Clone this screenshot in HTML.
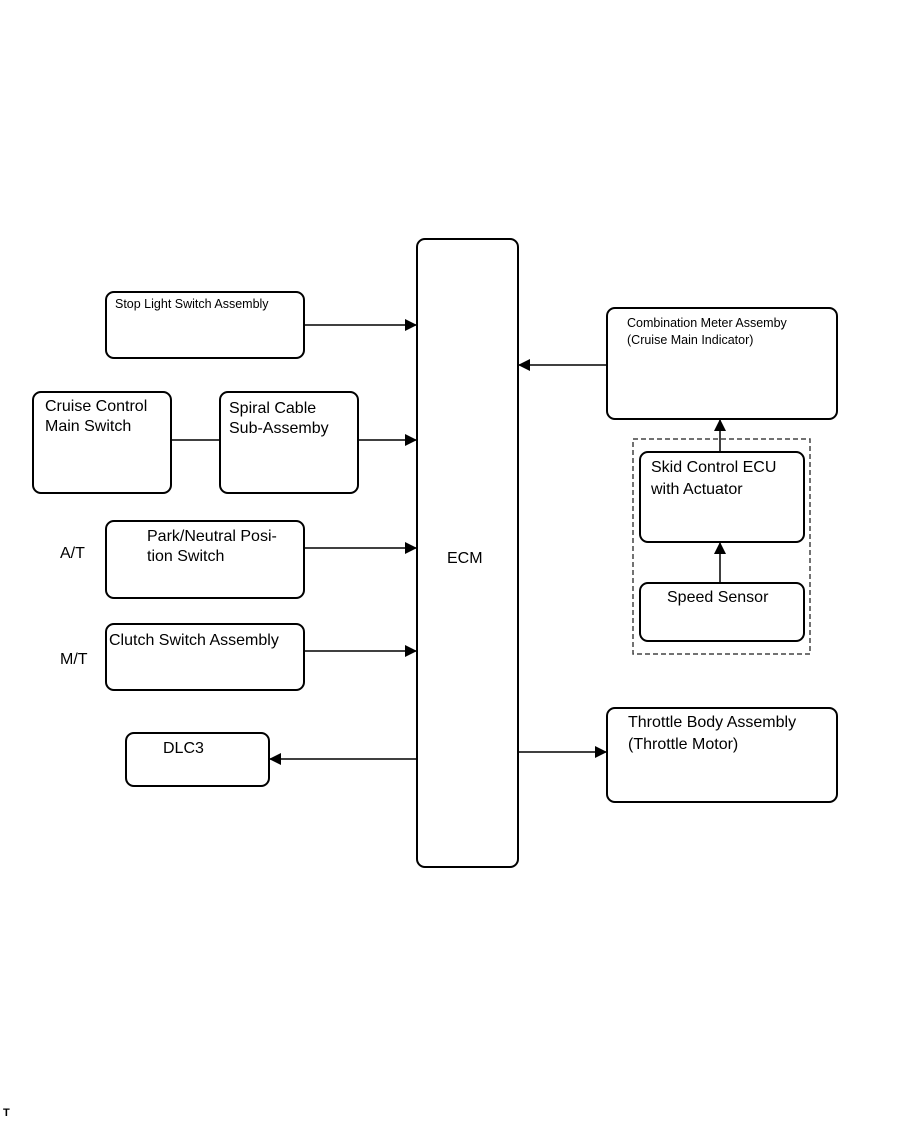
<!DOCTYPE html>
<html><head><style>body{margin:0;background:#fff}svg{display:block}</style></head><body>
<svg width="907" height="1122" xmlns="http://www.w3.org/2000/svg" font-family="Liberation Sans, sans-serif">
<defs><marker id="a" markerWidth="12" markerHeight="12" refX="12" refY="6" orient="auto" markerUnits="userSpaceOnUse"><path d="M0,0 L12,6 L0,12 z" fill="#000"/></marker></defs>
<g fill="none" stroke="#000" stroke-width="2">
<rect x="417" y="239" width="101" height="628" rx="8"/>
<rect x="106" y="292" width="198" height="66" rx="8"/>
<rect x="33" y="392" width="138" height="101" rx="8"/>
<rect x="220" y="392" width="138" height="101" rx="8"/>
<rect x="106" y="521" width="198" height="77" rx="8"/>
<rect x="106" y="624" width="198" height="66" rx="8"/>
<rect x="126" y="733" width="143" height="53" rx="8"/>
<rect x="607" y="308" width="230" height="111" rx="8"/>
<rect x="640" y="452" width="164" height="90" rx="8"/>
<rect x="640" y="583" width="164" height="58" rx="8"/>
<rect x="607" y="708" width="230" height="94" rx="8"/>
</g>
<rect x="633" y="439" width="177" height="215" fill="none" stroke="#444" stroke-width="1.5" stroke-dasharray="5,3"/>
<g stroke="#000" stroke-width="1.5" fill="none">
<line x1="304" y1="325" x2="417" y2="325" marker-end="url(#a)"/>
<line x1="171" y1="440" x2="220" y2="440"/>
<line x1="358" y1="440" x2="417" y2="440" marker-end="url(#a)"/>
<line x1="304" y1="548" x2="417" y2="548" marker-end="url(#a)"/>
<line x1="304" y1="651" x2="417" y2="651" marker-end="url(#a)"/>
<line x1="417" y1="759" x2="269" y2="759" marker-end="url(#a)"/>
<line x1="607" y1="365" x2="518" y2="365" marker-end="url(#a)"/>
<line x1="720" y1="452" x2="720" y2="419" marker-end="url(#a)"/>
<line x1="720" y1="583" x2="720" y2="542" marker-end="url(#a)"/>
<line x1="518" y1="752" x2="607" y2="752" marker-end="url(#a)"/>
</g>
<g fill="#000" font-size="16">
<text x="115" y="308" font-size="12.5">Stop Light Switch Assembly</text>
<text x="45" y="411">Cruise Control</text>
<text x="45" y="431">Main Switch</text>
<text x="229" y="413">Spiral Cable</text>
<text x="229" y="433">Sub-Assemby</text>
<text x="147" y="541">Park/Neutral Posi-</text>
<text x="147" y="561">tion Switch</text>
<text x="60" y="558">A/T</text>
<text x="109" y="645">Clutch Switch Assembly</text>
<text x="60" y="664">M/T</text>
<text x="163" y="753">DLC3</text>
<text x="447" y="563">ECM</text>
<text x="627" y="327" font-size="12.5">Combination Meter Assemby</text>
<text x="627" y="344" font-size="12.5">(Cruise Main Indicator)</text>
<text x="651" y="472">Skid Control ECU</text>
<text x="651" y="494">with Actuator</text>
<text x="667" y="602">Speed Sensor</text>
<text x="628" y="727">Throttle Body Assembly</text>
<text x="628" y="749">(Throttle Motor)</text>
<text x="3" y="1116" font-size="11" font-weight="bold">T</text>
</g>
</svg>
</body></html>
